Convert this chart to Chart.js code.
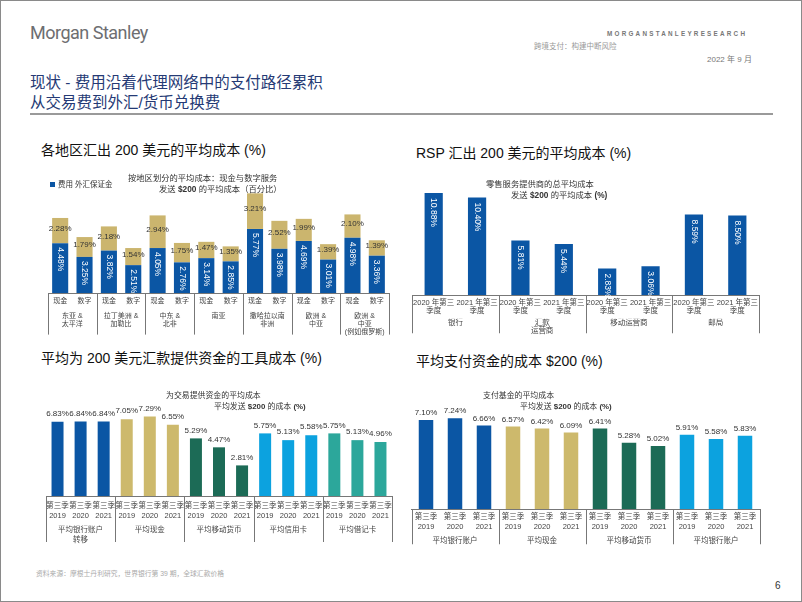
<!DOCTYPE html>
<html>
<head>
<meta charset="utf-8">
<script src="https://cdn.jsdelivr.net/npm/chart.js@4.4.1/dist/chart.umd.min.js"></script>
<style>
  html, body { margin: 0; padding: 0; background: #fff; }
  #slide { position: relative; width: 802px; height: 602px; box-sizing: border-box; border: 1px solid #8a8a8a; overflow: hidden;
           font-family: 'Liberation Sans', 'Noto Sans CJK SC', sans-serif; }
  .t { position: absolute; white-space: nowrap; }
  canvas { position: absolute; }
  .inner { font-size: 8.3px; color: #333; text-align: left; line-height: 11px; }
  .ctitle { font-size: 14px; color: #111; }
</style>
</head>
<body>
<div id="slide">
  <div class="t" style="left:29px;top:21px;font-family:Roboto;font-size:18px;color:#6d6e71;letter-spacing:-0.5px;">Morgan Stanley</div>
  <div class="t" style="left:606px;top:29px;font-size:6.3px;font-weight:bold;color:#777;letter-spacing:2.25px;">MORGANSTANLEYRESEARCH</div>
  <div class="t" style="left:533px;top:39px;font-size:7.5px;color:#999;">跨境支付：构建中断风险</div>
  <div class="t" style="left:706px;top:52px;font-size:8px;color:#777;">2022 年 9 月</div>
  <div class="t" style="left:29px;top:72px;font-size:15.5px;color:#253a75;line-height:20px;">现状 - 费用沿着代理网络中的支付路径累积<br>从交易费到外汇/货币兑换费</div>
  <div style="position:absolute;left:29px;top:112px;width:743px;height:1.5px;background:#9a9a9a;"></div>

  <div class="t ctitle" style="left:40px;top:138px;">各地区汇出 200 美元的平均成本 (%)</div>
  <div class="t ctitle" style="left:415px;top:141px;">RSP 汇出 200 美元的平均成本 (%)</div>
  <div class="t ctitle" style="left:40px;top:346px;">平均为 200 美元汇款提供资金的工具成本 (%)</div>
  <div class="t ctitle" style="left:415px;top:349px;">平均支付资金的成本 $200 (%)</div>

  <canvas id="c1" width="370" height="180" style="left:30px;top:160px;"></canvas>
  <canvas id="c2" width="390" height="178" style="left:400px;top:160px;"></canvas>
  <canvas id="c3" width="370" height="165" style="left:30px;top:380px;"></canvas>
  <canvas id="c4" width="390" height="170" style="left:400px;top:380px;"></canvas>

  <div class="t" style="left:49px;top:177px;font-size:7.5px;color:#333;"><span style="display:inline-block;width:5px;height:5px;background:#0b56a4;margin-right:3px;"></span>费用 外汇保证金</div>
  <div class="t inner" style="left:127px;top:172px;">按地区划分的平均成本：现金与数字服务<br><span style="padding-left:31px">发送 <b>$200</b> 的平均成本（百分比）</span></div>
  <div class="t inner" style="left:485px;top:178px;">零售服务提供商的总平均成本<br><span style="padding-left:25px">发送 <b>$200</b> 的平均成本 <b>(%)</b></span></div>
  <div class="t inner" style="left:165px;top:389px;font-size:7.9px;">为交易提供资金的平均成本<br><span style="padding-left:48px">平均发送 <b>$200</b> 的成本 <b>(%)</b></span></div>
  <div class="t inner" style="left:482px;top:389px;font-size:7.9px;">支付基金的平均成本<br><span style="padding-left:37px">平均发送 <b>$200</b> 的成本 <b>(%)</b></span></div>

  <div class="t" style="left:35px;top:567px;font-size:6.8px;color:#aaa;">资料来源：摩根士丹利研究，世界银行第 39 期，全球汇款价格</div>
  <div class="t" style="left:774px;top:579px;font-size:10px;color:#333;">6</div>
</div>

<script>
// ---- data: chart 1, cost by region (cash vs digital)
const regionBarLabels = ['现金', '数字', '现金', '数字', '现金', '数字', '现金', '数字', '现金', '数字', '现金', '数字', '现金', '数字'];
const regionGroups = [['东亚 &', '太平洋'], ['拉丁美洲 &', '加勒比'], ['中东 &', '北非'], '南亚', ['撒哈拉以南', '非洲'], ['欧洲 &', '中亚'], ['欧洲 &', '中亚', '(例如俄罗斯)']];
const regionFees = [4.48, 3.25, 3.82, 2.51, 4.05, 2.76, 3.14, 2.85, 5.77, 3.98, 4.69, 3.01, 4.98, 3.36];
const regionFx = [2.28, 1.79, 2.18, 1.54, 2.94, 1.75, 1.47, 1.35, 3.21, 2.52, 1.99, 1.39, 2.10, 1.39];

// ---- data: chart 2, RSP total cost
const rspBarLabels = [['2020 年第三', '季度'], ['2021 年第三', '季度'], ['2020 年第三', '季度'], ['2021 年第三', '季度'],
                      ['2020 年第三', '季度'], ['2021 年第三', '季度'], ['2020 年第三', '季度'], ['2021 年第三', '季度']];
const rspGroups = ['银行', ['汇款', '运营商'], '移动运营商', '邮局'];
const rspCost = [10.88, 10.40, 5.81, 5.44, 2.83, 3.06, 8.59, 8.50];

// ---- data: chart 3, funding instrument cost
const fundBarLabels = [['第三季', '2019'], ['第三季', '2020'], ['第三季', '2021'], ['第三季', '2019'], ['第三季', '2020'], ['第三季', '2021'],
                       ['第三季', '2019'], ['第三季', '2020'], ['第三季', '2021'], ['第三季', '2019'], ['第三季', '2020'], ['第三季', '2021'],
                       ['第三季', '2019'], ['第三季', '2020'], ['第三季', '2021']];
const fundGroups = [['平均银行账户', '转移'], '平均现金', '平均移动货币', '平均信用卡', '平均借记卡'];
const fundCost = [6.83, 6.84, 6.84, 7.05, 7.29, 6.55, 5.29, 4.47, 2.81, 5.75, 5.13, 5.58, 5.75, 5.13, 4.96];

// ---- data: chart 4, payout cost
const payBarLabels = [['第三季', '2019'], ['第三季', '2020'], ['第三季', '2021'], ['第三季', '2019'], ['第三季', '2020'], ['第三季', '2021'],
                      ['第三季', '2019'], ['第三季', '2020'], ['第三季', '2021'], ['第三季', '2019'], ['第三季', '2020'], ['第三季', '2021']];
const payGroups = ['平均银行账户', '平均现金', '平均移动货币', '平均银行账户'];
const payCost = [7.10, 7.24, 6.66, 6.57, 6.42, 6.09, 6.41, 5.28, 5.02, 5.91, 5.58, 5.83];

// colours
const blue = '#0b56a4', gold = '#cbb56e';
const groupColors = ['#0b56a4', '#cdb96c', '#1c6b56', '#0ca2df', '#2ca79b'];

Chart.defaults.font.family = "'Liberation Sans', 'Noto Sans CJK SC', sans-serif";
Chart.defaults.color = '#333';
Chart.defaults.animation = false;

// writes the value of every bar
const valueLabels = {
    id: 'valueLabels',
    afterDatasetsDraw(chart, args, opts) {
        const ctx = chart.ctx;
        chart.data.datasets.forEach((ds, di) => {
            const st = opts.styles[di];
            if (!st) return;
            chart.getDatasetMeta(di).data.forEach((bar, i) => {
                const {x, y, base} = bar.getProps(['x', 'y', 'base'], true);
                const text = ds.data[i].toFixed(2) + '%';
                ctx.save();
                ctx.font = st.font;
                ctx.fillStyle = st.color;
                if (st.mode === 'vertical') {
                    ctx.translate(x, y + st.offset);
                    ctx.rotate(Math.PI / 2);
                    ctx.textAlign = 'left';
                    ctx.textBaseline = 'middle';
                    ctx.fillText(text, 0, 0);
                } else if (st.mode === 'center') {
                    ctx.textAlign = 'center';
                    ctx.textBaseline = 'middle';
                    ctx.fillText(text, x, (y + base) / 2 + st.offset);
                } else {
                    ctx.textAlign = 'center';
                    ctx.textBaseline = 'bottom';
                    ctx.fillText(text, x, y - st.offset);
                }
                ctx.restore();
            });
        });
    }
};

// vertical separators between the category groups
const groupLines = {
    id: 'groupLines',
    afterDraw(chart, args, opts) {
        const {ctx, chartArea} = chart;
        const x = chart.scales.x, x2 = chart.scales.x2;
        const n = x.getLabels().length;
        ctx.save();
        ctx.strokeStyle = opts.color;
        ctx.lineWidth = 1;
        for (let i = 0; i <= n; i += opts.size) {
            const px = Math.round(x.getPixelForValue(i - 0.5)) + 0.5;
            ctx.beginPath();
            ctx.moveTo(px, chartArea.bottom);
            ctx.lineTo(px, x2.bottom - opts.trim);
            ctx.stroke();
        }
        ctx.restore();
    }
};

function axes(barLabels, groups, yMax, tickFont, tickPad, groupFont, groupPad) {
    return {
        x: {
            labels: barLabels,
            offset: true,
            grid: {display: false, drawTicks: false},
            border: {color: '#777'},
            ticks: {autoSkip: false, maxRotation: 0, font: tickFont, padding: tickPad, color: '#444'}
        },
        x2: {
            type: 'category',
            labels: groups,
            offset: true,
            position: 'bottom',
            grid: {display: false, drawTicks: false},
            border: {display: false},
            ticks: {autoSkip: false, maxRotation: 0, font: groupFont, padding: groupPad, color: '#444'}
        },
        y: {display: false, min: 0, max: yMax, stacked: true}
    };
}

// chart 1
const scales1 = axes(regionBarLabels, regionGroups, 10, {size: 7}, 4, {size: 7}, 2);
scales1.x.stacked = true;
new Chart(document.getElementById('c1'), {
    type: 'bar',
    data: {
        labels: regionBarLabels,
        datasets: [
            {label: '费用', data: regionFees, backgroundColor: blue, barPercentage: 0.66, categoryPercentage: 1},
            {label: '外汇保证金', data: regionFx, backgroundColor: gold, barPercentage: 0.66, categoryPercentage: 1}
        ]
    },
    options: {
        responsive: false,
        layout: {padding: {left: 17, right: 12, top: 21, bottom: 2.4}},
        scales: scales1,
        plugins: {
            legend: {display: false},
            tooltip: {enabled: false},
            valueLabels: {styles: [
                {mode: 'vertical', offset: 4, font: '8.5px "Liberation Sans"', color: '#fff'},
                {mode: 'center', offset: -2, font: '8px "Liberation Sans"', color: '#333'}
            ]},
            groupLines: {size: 2, color: '#777', trim: 4}
        }
    },
    plugins: [valueLabels, groupLines]
});

// chart 2
new Chart(document.getElementById('c2'), {
    type: 'bar',
    data: {
        labels: rspBarLabels,
        datasets: [{label: '零售服务提供商的总平均成本', data: rspCost, backgroundColor: blue, barPercentage: 0.42, categoryPercentage: 1}]
    },
    options: {
        responsive: false,
        layout: {padding: {left: 11, right: 32, top: 21.6, bottom: 3.75}},
        scales: axes(rspBarLabels, rspGroups, 12, {size: 7.5, lineHeight: 1.05}, 4, {size: 7.5, lineHeight: 1.1}, 0),
        plugins: {
            legend: {display: false},
            tooltip: {enabled: false},
            valueLabels: {styles: [{mode: 'vertical', offset: 5, font: '8.5px "Liberation Sans"', color: '#fff'}]},
            groupLines: {size: 2, color: '#777', trim: 2}
        }
    },
    plugins: [valueLabels, groupLines]
});

// chart 3
new Chart(document.getElementById('c3'), {
    type: 'bar',
    data: {
        labels: fundBarLabels,
        datasets: [{label: '为交易提供资金的平均成本', data: fundCost,
            backgroundColor: fundCost.map((v, i) => groupColors[Math.floor(i / 3)]),
            barPercentage: 0.52, categoryPercentage: 1}]
    },
    options: {
        responsive: false,
        layout: {padding: {left: 15, right: 9, top: 17, bottom: 1}},
        scales: axes(fundBarLabels, fundGroups, 9, {size: 7.5, lineHeight: 1.3}, 5, {size: 7.5, lineHeight: 1.3}, 0),
        plugins: {
            legend: {display: false},
            tooltip: {enabled: false},
            valueLabels: {styles: [{mode: 'top', offset: 4, font: '8px "Liberation Sans"', color: '#333'}]},
            groupLines: {size: 3, color: '#777', trim: 3}
        }
    },
    plugins: [valueLabels, groupLines]
});

// chart 4
new Chart(document.getElementById('c4'), {
    type: 'bar',
    data: {
        labels: payBarLabels,
        datasets: [{label: '支付基金的平均成本', data: payCost,
            backgroundColor: payCost.map((v, i) => groupColors[Math.floor(i / 3)]),
            barPercentage: 0.5, categoryPercentage: 1}]
    },
    options: {
        responsive: false,
        layout: {padding: {left: 10.5, right: 31.5, top: 27.6, bottom: 2.75}},
        scales: axes(payBarLabels, payGroups, 8, {size: 7.5, lineHeight: 1.3}, 3, {size: 7.5, lineHeight: 1.3}, 2),
        plugins: {
            legend: {display: false},
            tooltip: {enabled: false},
            valueLabels: {styles: [{mode: 'top', offset: 3, font: '8px "Liberation Sans"', color: '#333'}]},
            groupLines: {size: 3, color: '#777', trim: 4}
        }
    },
    plugins: [valueLabels, groupLines]
});
</script>
</body>
</html>
